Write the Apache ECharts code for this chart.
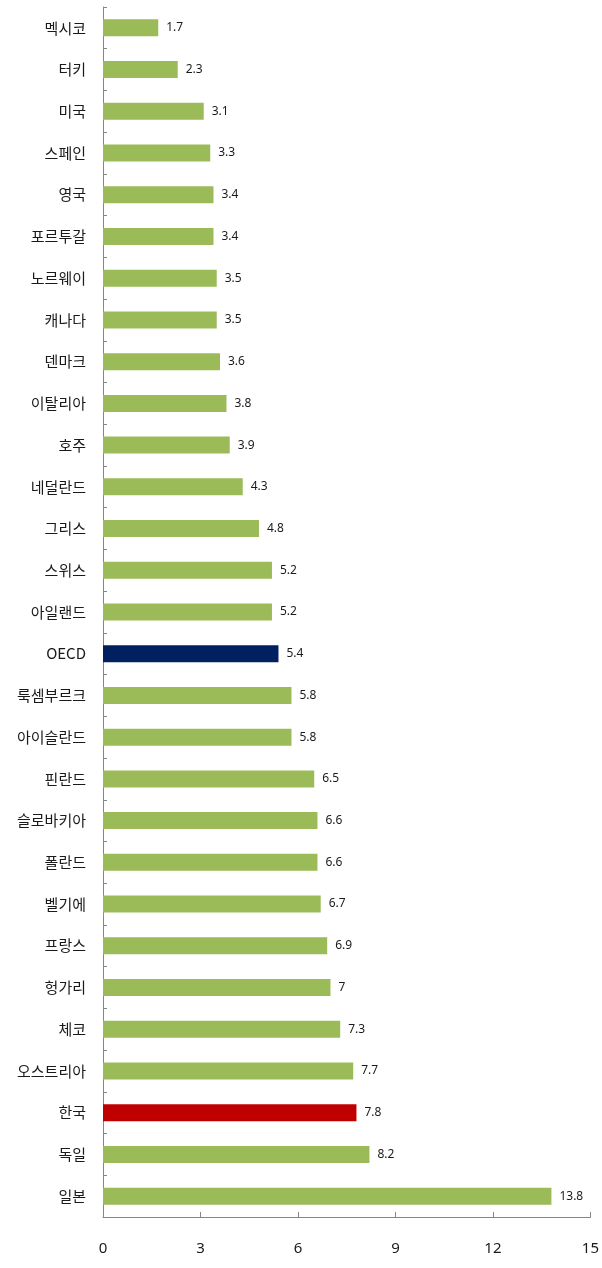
<!DOCTYPE html>
<html>
<head>
<meta charset="utf-8">
<title>OECD</title>
<script src="https://cdn.jsdelivr.net/npm/echarts@6/dist/echarts.min.js"></script>
<style>
    html, body, #main {
        width: 100%;
        height: 100%;
        margin: 0;
        background: #fff;
    }
</style>
</head>
<body>
<div id="main"></div>
<script>
    // 국가 (위에서 아래 순서)
    var countries = ['멕시코', '터키', '미국', '스페인', '영국', '포르투갈', '노르웨이', '캐나다', '덴마크', '이탈리아',
        '호주', '네덜란드', '그리스', '스위스', '아일랜드', 'OECD', '룩셈부르크', '아이슬란드', '핀란드', '슬로바키아',
        '폴란드', '벨기에', '프랑스', '헝가리', '체코', '오스트리아', '한국', '독일', '일본'];
    var values = [1.7, 2.3, 3.1, 3.3, 3.4, 3.4, 3.5, 3.5, 3.6, 3.8,
        3.9, 4.3, 4.8, 5.2, 5.2, 5.4, 5.8, 5.8, 6.5, 6.6,
        6.6, 6.7, 6.9, 7, 7.3, 7.7, 7.8, 8.2, 13.8];
    var highlight = {'OECD': '#002060', '한국': '#c00000'};

    var chart = echarts.init(document.getElementById('main'));

    var data = [];
    for (var i = 0; i < countries.length; i++) {
        data.push({
            value: values[i],
            itemStyle: {color: highlight[countries[i]] || '#9bbb59'}
        });
    }

    var option = {
        animation: false,
        grid: {left: 103, right: 8, top: 7, bottom: 51},
        xAxis: {
            type: 'value',
            min: 0,
            max: 15,
            interval: 3,
            axisLine: {show: true, lineStyle: {color: '#868686'}},
            axisTick: {show: true, inside: true, length: 5, lineStyle: {color: '#868686'}},
            splitLine: {show: false},
            axisLabel: {
                margin: 24,
                color: '#1a1a1a',
                fontSize: 15,
                fontFamily: 'Noto Sans'
            }
        },
        yAxis: {
            type: 'category',
            inverse: true,
            data: countries,
            axisLine: {lineStyle: {color: '#868686'}},
            axisTick: {show: true, inside: true, length: 4, lineStyle: {color: '#868686'}},
            axisLabel: {
                margin: 17,
                color: '#1a1a1a',
                fontSize: 15,
                fontFamily: 'Noto Sans CJK KR'
            }
        },
        series: [{
            type: 'bar',
            barWidth: 17,
            data: data,
            label: {
                show: true,
                position: 'right',
                distance: 8,
                color: '#1a1a1a',
                fontSize: 12,
                fontFamily: 'Noto Sans'
            }
        }]
    };
    chart.setOption(option);

    window.onresize = chart.resize;
</script>
</body>
</html>
